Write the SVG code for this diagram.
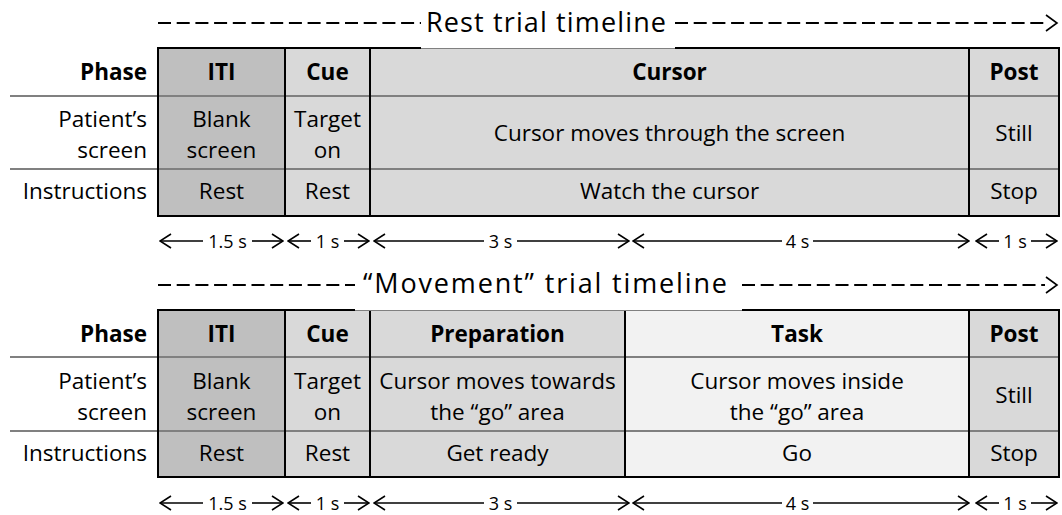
<svg xmlns="http://www.w3.org/2000/svg" width="1062" height="515" viewBox="0 0 1062 515">
<style>
.t{font-family:"Open Sans","Liberation Sans",sans-serif;font-size:22.5px;fill:#000}
.b{font-weight:bold}
.m{text-anchor:middle}
.r{text-anchor:end}
.d{font-size:18px}
.ti{font-size:27px}
.sep{stroke:#808080;stroke-width:2}
.vl{stroke:#000;stroke-width:2}
.dash{stroke:#000;stroke-width:2;stroke-dasharray:13 5.7;fill:none}
.arr{stroke:#000;stroke-width:1.6;fill:none}
.c1{fill:#bfbfbf}
.c2{fill:#d9d9d9}
.c3{fill:#f2f2f2}
</style>
<defs>
<marker id="ah" viewBox="-12 -8 13 16" refX="0" refY="0" markerWidth="13" markerHeight="16" markerUnits="userSpaceOnUse" orient="auto-start-reverse">
<path d="M-11,-7 L0,0 L-11,7" fill="none" stroke="#000" stroke-width="1.6"/>
</marker>
</defs>
<rect width="1062" height="515" fill="#fff"/>

<!-- Rest trial title -->
<g id="rest-title">
<line class="dash" x1="158" y1="23" x2="421" y2="23"/>
<text class="t ti" x="426" y="32" textLength="240" lengthAdjust="spacing">Rest trial timeline</text>
<line class="dash" x1="675" y1="23" x2="1045" y2="23"/>
<path class="arr" stroke-width="2" d="M1046,15 L1057,23 L1046,31"/>
</g>

<!-- Rest table -->
<g id="rest-table">
<g id="rest-iti"><rect class="c1" x="158" y="48" width="127" height="168"/>
<text class="t b m" x="221.5" y="80">ITI</text>
<text class="t m" x="221.5" y="127">Blank</text><text class="t m" x="221.5" y="158">screen</text>
<text class="t m" x="221.5" y="199">Rest</text></g>
<g id="rest-cue"><rect class="c2" x="285" y="48" width="85" height="168"/>
<text class="t b m" x="327.5" y="80">Cue</text>
<text class="t m" x="327.5" y="127">Target</text><text class="t m" x="327.5" y="158">on</text>
<text class="t m" x="327.5" y="199">Rest</text></g>
<g id="rest-cursor"><rect class="c2" x="370" y="48" width="599" height="168"/>
<text class="t b m" x="669.5" y="80">Cursor</text>
<text class="t m" x="669.5" y="141">Cursor moves through the screen</text>
<text class="t m" x="669.5" y="199">Watch the cursor</text></g>
<g id="rest-post"><rect class="c2" x="969" y="48" width="90" height="168"/>
<text class="t b m" x="1014" y="80">Post</text>
<text class="t m" x="1014" y="141">Still</text>
<text class="t m" x="1014" y="199">Stop</text></g>
<g id="rest-labels">
<text class="t b r" x="147" y="80">Phase</text>
<text class="t r" x="147" y="127">Patient’s</text><text class="t r" x="147" y="158">screen</text>
<text class="t r" x="147" y="199">Instructions</text></g>
<line class="sep" x1="10" y1="96" x2="1059" y2="96"/>
<line class="sep" x1="10" y1="169" x2="1059" y2="169"/>
<line class="vl" x1="285" y1="48" x2="285" y2="216"/>
<line class="vl" x1="370" y1="48" x2="370" y2="216"/>
<line class="vl" x1="969" y1="48" x2="969" y2="216"/>
<path class="vl" fill="none" d="M421,48 H158 V216 H1059 V48 H675"/>
<line x1="421" y1="48.5" x2="675" y2="48.5" stroke="#808080" stroke-width="1"/>
</g>

<!-- Movement title -->
<g id="move-title">
<line class="dash" x1="158" y1="285" x2="355" y2="285"/>
<text class="t ti" x="363" y="293" textLength="364" lengthAdjust="spacing">“Movement” trial timeline</text>
<line class="dash" x1="742" y1="285" x2="1045" y2="285"/>
<path class="arr" stroke-width="2" d="M1046,277 L1057,285 L1046,293"/>
</g>

<!-- Movement table -->
<g id="move-table">
<g id="move-iti"><rect class="c1" x="158" y="310" width="127" height="167"/>
<text class="t b m" x="221.5" y="342">ITI</text>
<text class="t m" x="221.5" y="389">Blank</text><text class="t m" x="221.5" y="420">screen</text>
<text class="t m" x="221.5" y="461">Rest</text></g>
<g id="move-cue"><rect class="c2" x="285" y="310" width="85" height="167"/>
<text class="t b m" x="327.5" y="342">Cue</text>
<text class="t m" x="327.5" y="389">Target</text><text class="t m" x="327.5" y="420">on</text>
<text class="t m" x="327.5" y="461">Rest</text></g>
<g id="move-prep"><rect class="c2" x="370" y="310" width="255" height="167"/>
<text class="t b m" x="497.5" y="342">Preparation</text>
<text class="t m" x="497.5" y="389">Cursor moves towards</text><text class="t m" x="497.5" y="420">the “go” area</text>
<text class="t m" x="497.5" y="461">Get ready</text></g>
<g id="move-task"><rect class="c3" x="625" y="310" width="344" height="167"/>
<text class="t b m" x="797" y="342">Task</text>
<text class="t m" x="797" y="389">Cursor moves inside</text><text class="t m" x="797" y="420">the “go” area</text>
<text class="t m" x="797" y="461">Go</text></g>
<g id="move-post"><rect class="c2" x="969" y="310" width="90" height="167"/>
<text class="t b m" x="1014" y="342">Post</text>
<text class="t m" x="1014" y="403">Still</text>
<text class="t m" x="1014" y="461">Stop</text></g>
<g id="move-labels">
<text class="t b r" x="147" y="342">Phase</text>
<text class="t r" x="147" y="389">Patient’s</text><text class="t r" x="147" y="420">screen</text>
<text class="t r" x="147" y="461">Instructions</text></g>
<line class="sep" x1="10" y1="357" x2="1059" y2="357"/>
<line class="sep" x1="10" y1="431" x2="1059" y2="431"/>
<line class="vl" x1="285" y1="310" x2="285" y2="477"/>
<line class="vl" x1="370" y1="310" x2="370" y2="477"/>
<line class="vl" x1="625" y1="310" x2="625" y2="477"/>
<line class="vl" x1="969" y1="310" x2="969" y2="477"/>
<path class="vl" fill="none" d="M355,310 H158 V477 H1059 V310 H742"/>
<line x1="355" y1="310.5" x2="742" y2="310.5" stroke="#808080" stroke-width="1"/>
</g>

<!-- Duration arrows -->
<g id="connectors">
<g id="rest-durations">
<path class="arr" d="M203,241 H160" marker-end="url(#ah)"/><text class="t d m" x="227.5" y="248">1.5 s</text><path class="arr" d="M252,241 H283" marker-end="url(#ah)"/>
<path class="arr" d="M311,241 H288" marker-end="url(#ah)"/><text class="t d m" x="327.5" y="248">1 s</text><path class="arr" d="M344,241 H369" marker-end="url(#ah)"/>
<path class="arr" d="M484,241 H374" marker-end="url(#ah)"/><text class="t d m" x="500.5" y="248">3 s</text><path class="arr" d="M517,241 H629" marker-end="url(#ah)"/>
<path class="arr" d="M782,241 H633" marker-end="url(#ah)"/><text class="t d m" x="797.5" y="248">4 s</text><path class="arr" d="M813,241 H969" marker-end="url(#ah)"/>
<path class="arr" d="M999,241 H976" marker-end="url(#ah)"/><text class="t d m" x="1015" y="248">1 s</text><path class="arr" d="M1031,241 H1057" marker-end="url(#ah)"/>
</g>
<g id="move-durations">
<path class="arr" d="M203,503 H160" marker-end="url(#ah)"/><text class="t d m" x="227.5" y="510">1.5 s</text><path class="arr" d="M252,503 H283" marker-end="url(#ah)"/>
<path class="arr" d="M311,503 H288" marker-end="url(#ah)"/><text class="t d m" x="327.5" y="510">1 s</text><path class="arr" d="M344,503 H369" marker-end="url(#ah)"/>
<path class="arr" d="M484,503 H374" marker-end="url(#ah)"/><text class="t d m" x="500.5" y="510">3 s</text><path class="arr" d="M517,503 H629" marker-end="url(#ah)"/>
<path class="arr" d="M782,503 H633" marker-end="url(#ah)"/><text class="t d m" x="797.5" y="510">4 s</text><path class="arr" d="M813,503 H969" marker-end="url(#ah)"/>
<path class="arr" d="M999,503 H976" marker-end="url(#ah)"/><text class="t d m" x="1015" y="510">1 s</text><path class="arr" d="M1031,503 H1057" marker-end="url(#ah)"/>
</g>
</g>
</svg>
